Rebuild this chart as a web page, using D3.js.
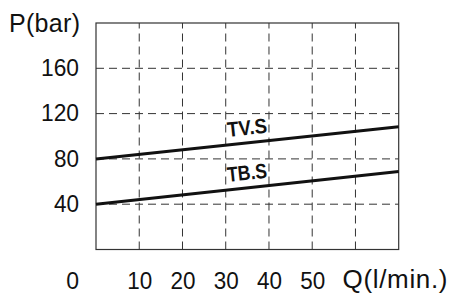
<!DOCTYPE html>
<html>
<head>
<meta charset="utf-8">
<script src="https://cdn.jsdelivr.net/npm/d3@7"></script>
<style>
  body { margin: 0; background: #fff; }
  text { font-family: "Liberation Sans", Arial, sans-serif; fill: #111; }
</style>
</head>
<body>
<div id="chart"></div>
<script>
// flow (l/min) vs pressure (bar)
var flow = [0, 70];
var tvs = [80, 108.3];
var tbs = [40, 68.8];
var xTicks = [10, 20, 30, 40, 50];
var xGrid = [10, 20, 30, 40, 50, 60];
var yTicks = [40, 80, 120, 160];

var w = 449,
  h = 300,
  margin = { top: 23, right: 50.3, bottom: 50.5, left: 96 };

var svg = d3.select("#chart").append("svg").attr("width", w).attr("height", h);

var x = d3.scaleLinear().domain([0, 70]).range([margin.left, w - margin.right]);
var y = d3.scaleLinear().domain([0, 200]).range([h - margin.bottom, margin.top]);

// grid
svg.selectAll(".vgrid")
  .data(xGrid)
  .enter()
  .append("line")
  .attr("x1", function (d) { return x(d); })
  .attr("x2", function (d) { return x(d); })
  .attr("y1", y(0))
  .attr("y2", y(200))
  .attr("stroke", "#333")
  .attr("stroke-width", 1)
  .attr("stroke-dasharray", "8,5");

svg.selectAll(".hgrid")
  .data(yTicks)
  .enter()
  .append("line")
  .attr("x1", x(0))
  .attr("x2", x(70))
  .attr("y1", function (d) { return y(d); })
  .attr("y2", function (d) { return y(d); })
  .attr("stroke", "#333")
  .attr("stroke-width", 1)
  .attr("stroke-dasharray", "8,5");

// frame
svg.append("rect")
  .attr("x", x(0))
  .attr("y", y(200))
  .attr("width", x(70) - x(0))
  .attr("height", y(0) - y(200))
  .attr("fill", "none")
  .attr("stroke", "#333")
  .attr("stroke-width", 1.2);

// axes (labels only)
var yAxis = svg.append("g")
  .attr("transform", "translate(" + margin.left + ",0)")
  .call(d3.axisLeft(y).tickValues(yTicks).tickSize(0).tickPadding(17));
yAxis.select(".domain").remove();
yAxis.selectAll("text").style("font-size", "23px").style("font-family", null)
  .attr("textLength", 38).attr("lengthAdjust", "spacingAndGlyphs");
yAxis.selectAll("text").filter(function (d) { return d < 100; }).attr("textLength", 25);

var xAxis = svg.append("g")
  .attr("transform", "translate(0," + (h - margin.bottom) + ")")
  .call(d3.axisBottom(x).tickValues(xTicks).tickSize(0).tickPadding(23));
xAxis.select(".domain").remove();
xAxis.selectAll("text").style("font-size", "23px").style("font-family", null)
  .attr("textLength", 25).attr("lengthAdjust", "spacingAndGlyphs");

svg.append("text")
  .attr("x", margin.left - 17)
  .attr("y", 288.5)
  .attr("text-anchor", "end")
  .style("font-size", "23px")
  .text("0");

svg.append("text")
  .attr("x", 342.5)
  .attr("y", 288)
  .attr("textLength", 105)
  .style("font-size", "26px")
  .text("Q(l/min.)");

svg.append("text")
  .attr("x", 9)
  .attr("y", 32)
  .attr("textLength", 71)
  .style("font-size", "25px")
  .text("P(bar)");

// curves
var line = d3.line()
  .x(function (d) { return x(d[0]); })
  .y(function (d) { return y(d[1]); });

var series = [
  { name: "TV.S", values: tvs },
  { name: "TB.S", values: tbs }
];

series.forEach(function (s) {
  var pts = flow.map(function (q, i) { return [q, s.values[i]]; });
  svg.append("path")
    .datum(pts)
    .attr("d", line)
    .attr("fill", "none")
    .attr("stroke", "#111")
    .attr("stroke-width", 3);

  var dx = x(flow[1]) - x(flow[0]);
  var dy = y(s.values[1]) - y(s.values[0]);
  var ang = Math.atan2(dy, dx) * 180 / Math.PI;
  var q = 30.5;
  var py = y(s.values[0] + (s.values[1] - s.values[0]) * (q - flow[0]) / (flow[1] - flow[0]));
  svg.append("text")
    .attr("transform", "translate(" + x(q) + "," + (py - 8) + ") rotate(" + ang + ")")
    .attr("textLength", 40)
    .attr("lengthAdjust", "spacingAndGlyphs")
    .style("font-size", "21px")
    .style("font-weight", "bold")
    .text(s.name);
});
</script>
</body>
</html>
